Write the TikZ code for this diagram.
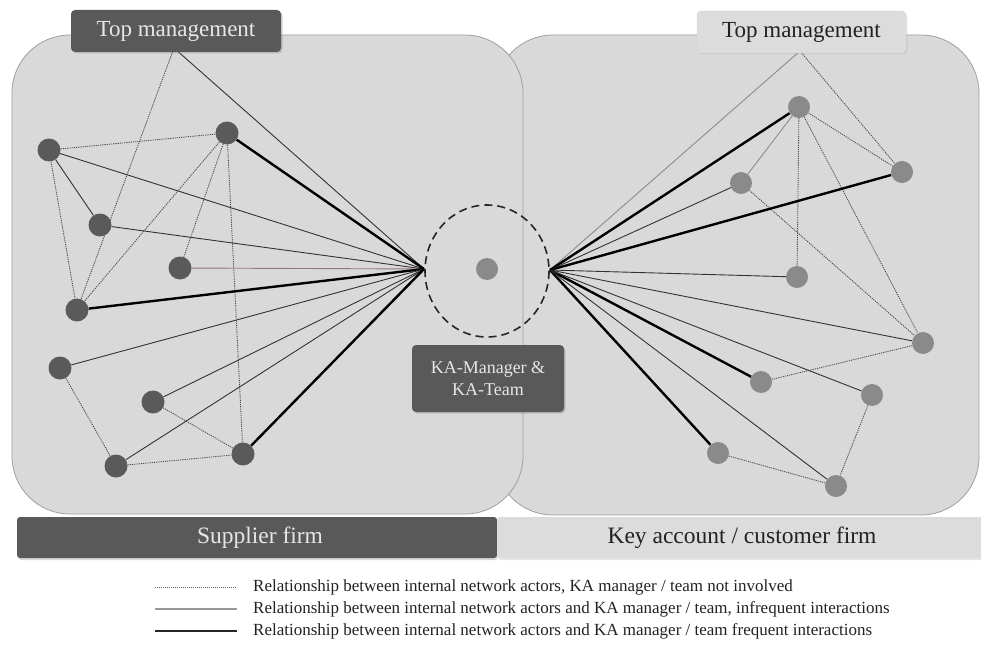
\documentclass[tikz,border=0pt]{standalone}
\usepackage{fontspec}
\setmainfont{Liberation Serif}
\usetikzlibrary{shadows}
\definecolor{bgc}{HTML}{D9D9D9}
\definecolor{boxline}{HTML}{A0A0A0}
\definecolor{darkc}{HTML}{595959}
\definecolor{lnodec}{HTML}{5A5A5A}
\definecolor{rnodec}{HTML}{8A8A8A}
\definecolor{lighttext}{HTML}{E6E6E6}
\definecolor{darktext}{HTML}{222222}
\definecolor{lightbox}{HTML}{DCDCDC}
\pgfdeclarelayer{bglayer}
\pgfdeclarelayer{edgelayer}
\pgfsetlayers{bglayer,edgelayer,main}
\begin{document}
\begin{tikzpicture}[x=1pt,y=-1pt,
  firmbox/.style={draw=boxline, line width=0.8pt, fill=bgc, rounded corners=58pt},
  lnode/.style={circle, fill=lnodec, minimum size=23pt, inner sep=0pt},
  rnode/.style={circle, fill=rnodec, minimum size=22pt, inner sep=0pt},
  strong/.style={line width=2.4pt, draw=black},
  weak/.style={line width=0.9pt, draw=black!80},
  weaklight/.style={line width=0.9pt, draw=black!45},
  weakred/.style={line width=0.9pt, draw={rgb,255:red,150;green,120;blue,120}},
  notinv/.style={line width=0.85pt, draw=black!70, dash pattern=on 1.2pt off 1pt},
  darkbox/.style={fill=darkc, rounded corners=4pt, text=lighttext, inner sep=0pt,
     drop shadow={opacity=0.35, shadow xshift=1.5pt, shadow yshift=-1.5pt}},
  tmtext/.style={font=\fontsize{23}{27}\selectfont},
  bartext/.style={font=\fontsize{23.5}{27}\selectfont},
  legtext/.style={font=\fontsize{17}{20}\selectfont, text=darktext, anchor=west, inner sep=0pt}
]
\useasboundingbox (0,0) rectangle (981,655);

% firm areas
\begin{pgfonlayer}{bglayer}
\draw[firmbox] (495,35) rectangle (979,515);
\draw[firmbox] (12,35) rectangle (523,514);
\end{pgfonlayer}

% hubs and anchors
\coordinate (hubL) at (424,269);
\coordinate (hubR) at (550,270);
\coordinate (tmL) at (174,48);
\coordinate (tmR) at (800,51);

% left nodes
\node[lnode] (L1) at (49,150) {};
\node[lnode] (L2) at (227,133) {};
\node[lnode] (L3) at (100,225) {};
\node[lnode] (L4) at (180,268) {};
\node[lnode] (L5) at (77,310) {};
\node[lnode] (L6) at (60,368) {};
\node[lnode] (L7) at (153,402) {};
\node[lnode] (L8) at (116,466) {};
\node[lnode] (L9) at (243,454) {};

% right nodes
\node[rnode] (R1) at (799,107) {};
\node[rnode] (R2) at (741,183) {};
\node[rnode] (R3) at (902,172) {};
\node[rnode] (R4) at (797,277) {};
\node[rnode] (R5) at (923,343) {};
\node[rnode] (R6) at (761,382) {};
\node[rnode] (R7) at (872,395) {};
\node[rnode] (R8) at (718,453) {};
\node[rnode] (R9) at (836,486) {};

% center
\node[circle, fill=rnodec, minimum size=22pt, inner sep=0pt] (KA) at (487,269) {};
\draw[line width=1.6pt, dash pattern=on 8pt off 5pt, black!85] (487,271) ellipse [x radius=62, y radius=66];

\begin{pgfonlayer}{edgelayer}
% left edges
\draw[weak] (tmL) -- (hubL);
\draw[notinv] (tmL) -- (L5);
\draw[notinv] (L1) -- (L2);
\draw[weak] (L1) -- (L3);
\draw[notinv] (L1) -- (L5);
\draw[weak] (L1) -- (hubL);
\draw[strong] (L2) -- (hubL);
\draw[notinv] (L2) -- (L5);
\draw[notinv] (L2) -- (L4);
\draw[notinv] (L2) -- (L9);
\draw[weak] (L3) -- (hubL);
\draw[weakred] (L4) -- (hubL);
\draw[strong] (L5) -- (hubL);
\draw[weak] (L6) -- (hubL);
\draw[notinv] (L6) -- (L8);
\draw[weak] (L7) -- (hubL);
\draw[notinv] (L7) -- (L9);
\draw[weak] (L8) -- (hubL);
\draw[notinv] (L8) -- (L9);
\draw[strong] (L9) -- (hubL);
% right edges
\draw[weaklight] (tmR) -- (hubR);
\draw[notinv] (tmR) -- (R3);
\draw[strong] (R1) -- (hubR);
\draw[weaklight] (R1) -- (R2);
\draw[notinv] (R1) -- (R3);
\draw[notinv] (R1) -- (R4);
\draw[notinv] (R1) -- (R5);
\draw[weak] (R2) -- (hubR);
\draw[notinv] (R2) -- (R5);
\draw[strong] (R3) -- (hubR);
\draw[weak] (R4) -- (hubR);
\draw[weak] (R5) -- (hubR);
\draw[notinv] (R5) -- (R6);
\draw[strong] (R6) -- (hubR);
\draw[weak] (R7) -- (hubR);
\draw[notinv] (R7) -- (R9);
\draw[strong] (R8) -- (hubR);
\draw[notinv] (R8) -- (R9);
\draw[weak] (R9) -- (hubR);
\end{pgfonlayer}

% top management boxes
\node[darkbox, tmtext, minimum width=210pt, minimum height=42pt] (tmLbox) at (176,31) {Top management};
\node[fill=lightbox, draw=black!15, rounded corners=4pt, inner sep=0pt, tmtext, text=darktext,
  minimum width=209pt, minimum height=42pt,
  drop shadow={opacity=0.15, shadow xshift=1.5pt, shadow yshift=-1.5pt}] (tmRbox) at (801.5,32) {Top management};

% KA box
\node[darkbox, align=center, font=\fontsize{18}{22}\selectfont,
  minimum width=152pt, minimum height=67pt] (KAbox) at (488,378.5) {KA-Manager \&\\KA-Team};

% bottom bars
\fill[darkc, rounded corners=3pt, drop shadow={opacity=0.3, shadow xshift=1pt, shadow yshift=-2pt}] (17,517) rectangle (497,558);
\node[bartext, text=lighttext] (supp) at (260,538) {Supplier firm};
\fill[lightbox, rounded corners=3pt, drop shadow={opacity=0.2, shadow xshift=1pt, shadow yshift=-2pt}] (497,517) rectangle (984,558);
\node[bartext, text=darktext] (cust) at (742,538) {Key account / customer firm};

% legend
\coordinate (la1) at (155,587); \coordinate (lb1) at (237,587);
\coordinate (la2) at (155,609); \coordinate (lb2) at (237,609);
\coordinate (la3) at (155,631); \coordinate (lb3) at (237,631);
\draw[line width=0.7pt, draw=black!60, dash pattern=on 1pt off 1pt] (la1) -- (lb1);
\draw[line width=1.6pt, draw=black!40] (la2) -- (lb2);
\draw[line width=2.6pt, draw=black!85] (la3) -- (lb3);
\node[legtext] (t1) at (253,587) {Relationship between internal network actors, KA manager / team not involved};
\node[legtext] (t2) at (253,609) {Relationship between internal network actors and KA manager / team, infrequent interactions};
\node[legtext] (t3) at (253,631) {Relationship between internal network actors and KA manager / team frequent interactions};
\end{tikzpicture}
\end{document}
